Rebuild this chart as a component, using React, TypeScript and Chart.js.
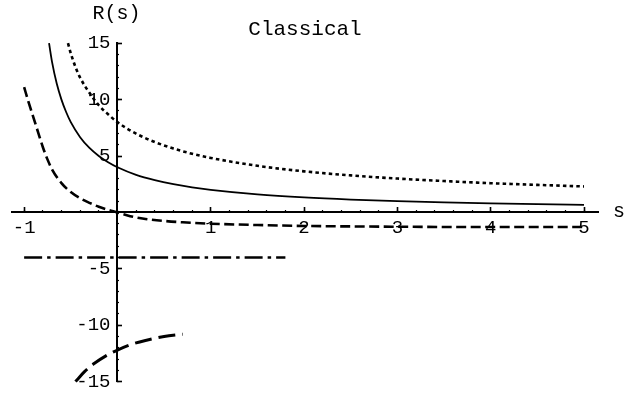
import React, { useEffect, useRef } from "react";
import { Chart, registerables } from "chart.js";

Chart.register(...registerables);

// ---- data ----
const SOLID_S = [-0.733, -0.7, -0.65, -0.6, -0.55, -0.5, -0.4, -0.3, -0.2, -0.1, 0, 0.2, 0.4, 0.6, 0.8, 1, 1.5, 2, 2.5, 3, 3.5, 4, 4.5, 5];
const SOLID_R = [15, 13.3, 11.4, 10.0, 8.9, 8.0, 6.67, 5.71, 5.0, 4.44, 4.0, 3.33, 2.86, 2.5, 2.22, 2.0, 1.6, 1.33, 1.14, 1.0, 0.89, 0.8, 0.73, 0.67];

const DOTTED_S = [-0.53, -0.5, -0.45, -0.4, -0.3, -0.2, -0.1, 0, 0.2, 0.4, 0.6, 0.8, 1, 1.5, 2, 2.5, 3, 3.5, 4, 4.5, 5];
const DOTTED_R = [15, 14.1, 12.9, 11.95, 10.6, 9.5, 8.7, 8, 6.98, 6.24, 5.66, 5.2, 4.83, 4.13, 3.64, 3.28, 3.0, 2.78, 2.59, 2.44, 2.3];

const DASHED_S = [-1, -0.95, -0.9, -0.85, -0.8, -0.75, -0.7, -0.6, -0.5, -0.4, -0.3, -0.2, -0.1, 0, 0.1, 0.2, 0.3, 0.5, 0.7, 1, 1.5, 2, 3, 4, 5];
const DASHED_R = [11.1, 9.7, 8.4, 7.1, 5.8, 4.7, 3.8, 2.6, 1.8, 1.25, 0.85, 0.5, 0.23, 0, -0.25, -0.45, -0.58, -0.76, -0.88, -1.0, -1.12, -1.2, -1.27, -1.3, -1.3];

const DASHDOT_S = [-1, 1.8];
const DASHDOT_R = [-4, -4];

const LONGDASH_S = [-0.45, -0.35, -0.25, -0.1, 0, 0.15, 0.3, 0.5, 0.7];
const LONGDASH_R = [-15.0, -14.1, -13.4, -12.6, -12.2, -11.7, -11.35, -11.0, -10.8];

const X_MAJOR_TICKS = [-1, 1, 2, 3, 4, 5];
const X_TICK_LABELS = ["-1", "1", "2", "3", "4", "5"];
const Y_MAJOR_TICKS = [-15, -10, -5, 5, 10, 15];
const Y_TICK_LABELS = ["-15", "-10", "-5", "5", "10", "15"];

const TITLE = "Classical";
const X_AXIS_LABEL = "s";
const Y_AXIS_LABEL = "R(s)";

const X_MIN = -1.13;
const X_MAX = 5.15;
const Y_MIN = -15;
const Y_MAX = 15;

const X_MINOR_TICKS: number[] = [];
for (let i = -5; i <= 25; i++) X_MINOR_TICKS.push(Math.round(i * 2) / 10);
const Y_MINOR_TICKS: number[] = [];
for (let i = -15; i <= 15; i++) if (i !== 0) Y_MINOR_TICKS.push(i);

const FONT = '"Liberation Mono", "Courier New", monospace';

const toPts = (xs: number[], ys: number[]) => xs.map((x, i) => ({ x, y: ys[i] }));

const axisLabelsPlugin = {
  id: "axisLabels",
  afterDraw(chart: any) {
    const ctx = chart.ctx;
    const xs = chart.scales.x;
    const ys = chart.scales.y;
    ctx.save();
    ctx.fillStyle = "#000";
    ctx.font = `20px ${FONT}`;
    ctx.textAlign = "center";
    ctx.textBaseline = "alphabetic";
    ctx.fillText(Y_AXIS_LABEL, xs.getPixelForValue(0) - 1, ys.top - 24);
    ctx.textAlign = "left";
    ctx.fillText(X_AXIS_LABEL, xs.right + 15, ys.getPixelForValue(0) + 4.5);
    ctx.restore();
  },
};

export default function App() {
  const ref = useRef<HTMLCanvasElement | null>(null);

  useEffect(() => {
    if (!ref.current) return;
    const base = {
      showLine: true,
      pointRadius: 0,
      borderColor: "#000",
      backgroundColor: "#000",
      fill: false,
      clip: false as any,
      cubicInterpolationMode: "monotone" as const,
      borderCapStyle: "butt" as const,
      xAxisID: "x",
      yAxisID: "y",
    };
    const hide = (s: any) => {
      s.height = 0;
    };
    const hideW = (s: any) => {
      s.width = 0;
    };
    const chart = new Chart(ref.current, {
      type: "scatter",
      data: {
        datasets: [
          { ...base, label: "solid", data: toPts(SOLID_S, SOLID_R), borderWidth: 1.8 },
          { ...base, label: "dotted", data: toPts(DOTTED_S, DOTTED_R), borderWidth: 2.6, borderDash: [3.5, 3.2] },
          { ...base, label: "dashed", data: toPts(DASHED_S, DASHED_R), borderWidth: 2.6, borderDash: [10, 4.5] },
          { ...base, label: "dashdot", data: toPts(DASHDOT_S, DASHDOT_R), borderWidth: 2.5, borderDash: [18, 5, 3.5, 5] },
          { ...base, label: "longdash", data: toPts(LONGDASH_S, LONGDASH_R), borderWidth: 3, borderDash: [17, 7] },
        ],
      },
      options: {
        animation: false,
        responsive: false,
        events: [],
        layout: { padding: { left: 12, right: 30, top: 0, bottom: 13 } },
        plugins: {
          legend: { display: false },
          tooltip: { enabled: false },
          title: {
            display: true,
            text: TITLE,
            fullSize: false,
            color: "#000",
            font: { family: FONT, size: 21, weight: "normal" },
            padding: { top: 17, bottom: 1 },
          },
        },
        scales: {
          x: {
            type: "linear",
            min: X_MIN,
            max: X_MAX,
            position: { y: 0 } as any,
            afterFit: hide,
            afterBuildTicks: (s: any) => {
              s.ticks = X_MINOR_TICKS.map((v) => ({ value: v }));
            },
            ticks: { display: false, autoSkip: false, maxRotation: 0, minRotation: 0 },
            grid: { drawOnChartArea: false, drawTicks: true, tickLength: -3, tickWidth: 1.2, tickColor: "#000" },
            border: { display: true, color: "#000", width: 2 },
          },
          x2: {
            type: "linear",
            axis: "x",
            min: X_MIN,
            max: X_MAX,
            position: { y: 0 } as any,
            afterFit: hide,
            afterBuildTicks: (s: any) => {
              s.ticks = X_MAJOR_TICKS.map((v) => ({ value: v }));
            },
            ticks: {
              display: true,
              autoSkip: false,
              maxRotation: 0,
              minRotation: 0,
              padding: 9,
              color: "#000",
              font: { family: FONT, size: 19 },
              callback: (v: any) => {
                const i = X_MAJOR_TICKS.indexOf(Number(v));
                return i >= 0 ? X_TICK_LABELS[i] : "";
              },
            },
            grid: { drawOnChartArea: false, drawTicks: true, tickLength: -5, tickWidth: 1.6, tickColor: "#000" },
            border: { display: false },
          },
          y: {
            type: "linear",
            min: Y_MIN,
            max: Y_MAX,
            position: { x: 0 } as any,
            afterFit: hideW,
            afterBuildTicks: (s: any) => {
              s.ticks = Y_MINOR_TICKS.map((v) => ({ value: v }));
            },
            ticks: { display: false, autoSkip: false },
            grid: { drawOnChartArea: false, drawTicks: true, tickLength: -3, tickWidth: 1.2, tickColor: "#000" },
            border: { display: true, color: "#000", width: 2 },
          },
          y2: {
            type: "linear",
            axis: "y",
            min: Y_MIN,
            max: Y_MAX,
            position: { x: 0 } as any,
            afterFit: hideW,
            afterBuildTicks: (s: any) => {
              s.ticks = Y_MAJOR_TICKS.map((v) => ({ value: v }));
            },
            ticks: { display: false, autoSkip: false },
            grid: { drawOnChartArea: false, drawTicks: true, tickLength: -5, tickWidth: 1.6, tickColor: "#000" },
            border: { display: false },
          },
          y3: {
            type: "linear",
            axis: "y",
            min: Y_MIN,
            max: Y_MAX,
            position: { x: -0.075 } as any,
            afterFit: hideW,
            afterBuildTicks: (s: any) => {
              s.ticks = Y_MAJOR_TICKS.map((v) => ({ value: v }));
            },
            ticks: {
              display: true,
              autoSkip: false,
              color: "#000",
              font: { family: FONT, size: 19 },
              callback: (v: any) => {
                const i = Y_MAJOR_TICKS.indexOf(Number(v));
                return i >= 0 ? Y_TICK_LABELS[i] : "";
              },
            },
            grid: { display: false },
            border: { display: false },
          },
        },
      } as any,
      plugins: [axisLabelsPlugin],
    });
    return () => chart.destroy();
  }, []);

  return (
    <div style={{ position: "fixed", left: 0, top: 0, width: 628, height: 396, background: "#fff" }}>
      <canvas ref={ref} width={628} height={396} style={{ display: "block" }} />
    </div>
  );
}
